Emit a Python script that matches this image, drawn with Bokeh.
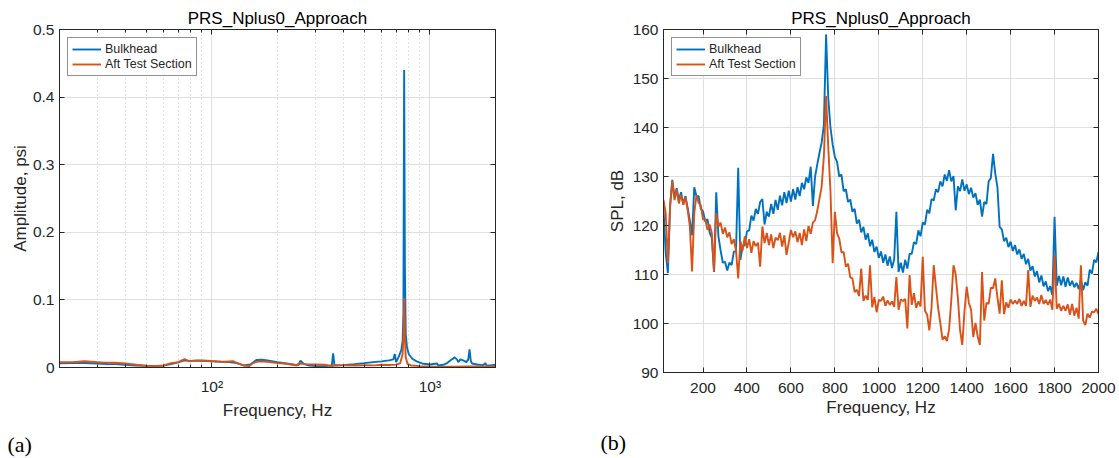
from bokeh.plotting import figure
from bokeh.models import (FixedTicker, Legend, LegendItem, LinearAxis, LogAxis, Title,
                          NumeralTickFormatter, CustomJSTickFormatter)
from bokeh.layouts import row
from bokeh.embed import file_html
from bokeh.resources import INLINE

# ---------------- data ----------------
title_text = "PRS_Nplus0_Approach"
series_names = ["Bulkhead", "Aft Test Section"]
panel_tags = ["(a)", "(b)"]

# panel (b): SPL in dB on a 10 Hz grid, 20 .. 2000 Hz
freq_hz = list(range(20, 2001, 10))
spl_bulkhead = [
    123.5, 114.5, 110.3, 124.0, 129.3, 125.8, 127.6, 125.2, 126.8,
    124.4, 126.0, 123.6, 121.0, 118.0, 127.8, 126.0, 126.0, 123.4, 122.9,
    120.8, 121.3, 118.6, 117.4, 110.5, 126.8, 117.8, 114.9, 112.4, 112.6,
    110.8, 112.4, 111.9, 114.6, 114.8, 131.8, 113.0, 115.8, 116.0, 118.8,
    119.0, 122.0, 121.0, 123.4, 122.4, 124.8, 125.4, 120.2, 122.8, 121.8,
    124.4, 122.4, 125.2, 123.2, 126.1, 124.1, 126.8, 124.6, 127.1, 124.9,
    127.4, 125.3, 127.8, 126.0, 128.7, 127.4, 129.8, 128.7, 132.0, 124.0,
    130.0, 132.5, 134.8, 137.0, 140.5, 159.0, 146.0, 140.0, 136.5, 134.0,
    133.0, 130.0, 130.4, 127.0, 127.4, 124.8, 125.3, 122.8, 123.4, 120.4,
    121.2, 118.6, 119.7, 117.1, 118.4, 115.8, 117.1, 114.6, 115.7, 113.4,
    114.7, 112.4, 114.1, 111.8, 113.7, 111.3, 113.1, 122.8, 110.5, 112.4,
    110.4, 113.0, 111.2, 114.2, 114.2, 116.6, 116.2, 119.0, 117.8, 120.6,
    120.2, 123.2, 122.5, 125.4, 125.1, 127.4, 126.8, 129.0, 128.0, 130.4,
    129.1, 131.3, 129.0, 130.1, 123.1, 128.0, 127.0, 129.4, 127.1, 128.4,
    126.4, 127.7, 125.7, 126.6, 124.2, 125.3, 121.8, 124.8, 124.4, 129.0,
    129.7, 134.6, 130.7, 127.8, 119.7, 119.2, 116.8, 117.5, 115.6, 116.7,
    114.8, 116.0, 114.1, 115.1, 113.2, 114.2, 112.1, 113.2, 110.8, 111.7,
    109.6, 110.7, 108.4, 109.8, 107.6, 108.6, 106.6, 107.6, 105.8, 121.8,
    107.7, 109.7, 107.8, 109.6, 107.5, 109.4, 107.7, 108.7, 107.4, 108.3,
    107.0, 109.0, 106.8, 108.4, 107.7, 111.0, 110.2, 113.0, 112.5, 114.6,
]
spl_aft = [
    125.2, 122.5, 112.3, 123.9, 129.0, 125.2, 127.3, 124.5, 126.3,
    124.2, 125.7, 123.2, 119.8, 110.6, 122.5, 126.2, 124.6, 124.1, 121.2,
    121.3, 119.1, 120.2, 118.4, 110.6, 122.5, 119.8, 120.6, 118.3, 119.6,
    117.6, 118.6, 116.2, 117.2, 114.9, 109.2, 116.8, 114.9, 117.8, 115.4,
    117.2, 114.4, 116.8, 115.8, 116.5, 111.6, 119.8, 116.4, 118.5, 116.0,
    118.2, 115.4, 117.5, 117.0, 118.5, 115.7, 118.0, 114.0, 116.5, 119.1,
    117.6, 118.8, 116.6, 118.5, 116.0, 119.2, 116.8, 119.9, 118.3, 120.6,
    121.1, 123.0, 125.5, 128.0, 134.1, 146.4, 136.0, 127.0, 112.3, 122.8,
    118.4, 117.3, 114.5, 114.6, 111.6, 112.2, 109.4, 109.2, 106.4, 106.9,
    105.6, 111.2, 104.6, 105.7, 104.8, 111.9, 103.3, 105.4, 102.3, 104.8,
    104.6, 105.5, 103.6, 104.7, 103.8, 104.5, 103.4, 109.5, 102.8, 104.9,
    104.6, 105.0, 99.0, 109.9, 103.8, 106.2, 103.2, 104.5, 103.5, 113.6,
    102.6, 101.8, 98.6, 103.3, 111.9, 107.5, 103.2, 100.1, 96.7, 97.4,
    96.4, 98.8, 104.8, 111.9, 110.0, 105.2, 98.6, 95.6, 102.5, 107.5,
    104.2, 102.8, 97.2, 100.1, 97.4, 95.6, 110.5, 100.6, 104.2, 104.0,
    107.3, 107.2, 109.2, 105.3, 102.0, 108.8, 101.9, 104.3, 103.2, 104.9,
    104.0, 104.7, 104.0, 105.0, 103.6, 104.6, 103.6, 110.9, 103.4, 105.7,
    104.6, 105.3, 104.0, 105.8, 104.0, 104.8, 103.8, 104.9, 102.8, 114.0,
    103.0, 104.0, 102.6, 103.6, 102.6, 103.9, 101.8, 104.0, 101.6, 103.2,
    101.0, 111.9, 100.6, 99.7, 102.0, 101.2, 102.4, 102.3, 103.0, 101.9,
]

# panel (a): amplitude in psi, log frequency axis
freq_bulk_psi = [20, 23, 26, 30, 33, 36, 40, 45, 50, 55, 60, 65, 70, 75, 80, 90, 100,
                 110, 120, 130, 140, 150, 160, 170, 180, 200, 220, 240, 250, 255, 265,
                 280, 300, 330, 355, 360, 365, 400, 450, 500, 550, 600, 650, 680, 690,
                 700, 720, 740, 750, 756, 762, 768, 775, 785, 800, 830, 870, 920, 1000,
                 1080, 1090, 1150, 1200, 1250, 1300, 1330, 1350, 1380, 1420, 1470, 1500,
                 1520, 1540, 1560, 1650, 1750, 1800, 1810, 1900, 2000]
amp_bulkhead = [0.0062, 0.0064, 0.0066, 0.0060, 0.0052, 0.0050, 0.0040, 0.0030, 0.0024,
                0.0022, 0.0028, 0.0050, 0.0075, 0.0105, 0.0098, 0.0100, 0.0092, 0.0085,
                0.0080, 0.0065, 0.0030, 0.0045, 0.0110, 0.0115, 0.0105, 0.0080, 0.0060,
                0.0040, 0.0035, 0.0100, 0.0050, 0.0030, 0.0022, 0.0020, 0.0030, 0.0210,
                0.0030, 0.0035, 0.0050, 0.0065, 0.0080, 0.0090, 0.0105, 0.0120, 0.0200,
                0.0080, 0.0160, 0.0260, 0.0400, 0.0800, 0.4400, 0.1500, 0.0500, 0.0300,
                0.0200, 0.0130, 0.0090, 0.0060, 0.0045, 0.0060, 0.0030, 0.0040, 0.0065,
                0.0110, 0.0150, 0.0120, 0.0080, 0.0120, 0.0105, 0.0080, 0.0120, 0.0270,
                0.0100, 0.0060, 0.0045, 0.0035, 0.0065, 0.0035, 0.0030, 0.0040]
freq_aft_psi = [20, 23, 26, 28, 32, 36, 40, 45, 50, 55, 60, 65, 70, 75, 78, 85, 95, 105,
                115, 125, 130, 140, 148, 155, 165, 180, 200, 220, 245, 250, 270, 300, 330,
                358, 365, 400, 460, 500, 560, 600, 650, 700, 730, 750, 758, 763, 768, 775,
                790, 820, 900, 1000, 1200, 1300, 1500, 1700, 1800, 2000]
amp_aft = [0.0078, 0.0080, 0.0092, 0.0085, 0.0072, 0.0070, 0.0060, 0.0040, 0.0025, 0.0020,
           0.0030, 0.0065, 0.0080, 0.0125, 0.0095, 0.0105, 0.0100, 0.0090, 0.0085, 0.0095,
           0.0070, 0.0030, 0.0020, 0.0070, 0.0090, 0.0085, 0.0065, 0.0055, 0.0030, 0.0060,
           0.0050, 0.0045, 0.0040, 0.0020, 0.0035, 0.0032, 0.0030, 0.0034, 0.0032, 0.0040,
           0.0037, 0.0042, 0.0060, 0.0200, 0.0500, 0.1030, 0.0450, 0.0150, 0.0050, 0.0030,
           0.0020, 0.0015, 0.0012, 0.0010, 0.0015, 0.0014, 0.0016, 0.0014]

amp_ticks = [0, 0.1, 0.2, 0.3, 0.4, 0.5]
log_major_ticks = [100, 1000]
log_minor_ticks = [20, 30, 40, 50, 60, 70, 80, 90, 200, 300, 400, 500, 600, 700, 800, 900, 2000]
freq_ticks = [200, 400, 600, 800, 1000, 1200, 1400, 1600, 1800, 2000]
spl_ticks = [90, 100, 110, 120, 130, 140, 150, 160]

# ---------------- style ----------------
BLUE = "#0072BD"
ORANGE = "#D95319"
AX = "#262626"
GRID = "#dfdfdf"
MINOR = "#c8c8c8"
FONT = "Liberation Sans"
SERIF = "Liberation Serif"
LW = 1.9


def style_axis(ax, ticks, minor=(), labels=True):
    ax.ticker = FixedTicker(ticks=list(ticks), minor_ticks=list(minor))
    ax.axis_line_color = AX
    ax.major_tick_line_color = AX
    ax.minor_tick_line_color = AX
    ax.major_tick_in = 5
    ax.major_tick_out = 0
    ax.minor_tick_in = 3
    ax.minor_tick_out = 0
    ax.major_label_text_font = FONT
    ax.major_label_text_font_size = "15.5px"
    ax.major_label_text_color = AX
    ax.major_label_standoff = 5
    ax.axis_label_text_font = FONT
    ax.axis_label_text_font_size = "17px"
    ax.axis_label_text_font_style = "normal"
    ax.axis_label_text_color = AX
    if not labels:
        ax.formatter = CustomJSTickFormatter(code="return ''")
        ax.major_label_standoff = 0


def base_fig(fw, fh, left, right, bottom, **kw):
    p = figure(frame_width=fw, frame_height=fh, output_backend="svg", toolbar_location=None,
               min_border_left=left, min_border_right=right, min_border_top=29,
               min_border_bottom=bottom, **kw)
    p.outline_line_color = AX
    p.outline_line_width = 1
    p.background_fill_color = "white"
    p.border_fill_color = "white"
    return p


def add_legend(p, r1, r2):
    leg = Legend(items=[LegendItem(label=series_names[0], renderers=[r1]),
                        LegendItem(label=series_names[1], renderers=[r2])],
                 location="top_left")
    leg.border_line_color = AX
    leg.border_line_width = 1
    leg.background_fill_alpha = 1
    leg.label_text_font = FONT
    leg.label_text_font_size = "12.5px"
    leg.label_text_color = AX
    leg.glyph_width = 29
    leg.glyph_height = 14
    leg.label_height = 14
    leg.label_standoff = 4
    leg.spacing = 1
    leg.padding = 4
    leg.margin = 8
    p.add_layout(leg)


def add_titles(p, tag, tag_offset, tag_standoff):
    p.title = Title(text=title_text, align="center", text_font=FONT, text_font_size="17px",
                    text_font_style="normal", text_color="black", standoff=4)
    p.add_layout(Title(text=tag, align="left", offset=tag_offset, text_font=SERIF,
                       text_font_size="22px", text_font_style="normal", text_color="black",
                       standoff=tag_standoff), "below")


# ---------------- panel (a) ----------------
p1 = base_fig(436, 338, 59, 65, 91, x_axis_type="log", x_range=(20, 2000), y_range=(0, 0.5))
ra1 = p1.line(freq_bulk_psi, amp_bulkhead, line_color=BLUE, line_width=LW)
ra2 = p1.line(freq_aft_psi, amp_aft, line_color=ORANGE, line_width=LW)
style_axis(p1.xaxis[0], log_major_ticks, log_minor_ticks)
p1.xaxis[0].major_label_overrides = {100: "10\u00b2", 1000: "10\u00b3"}
p1.xaxis[0].major_label_standoff = 10
p1.xaxis[0].axis_label = "Frequency, Hz"
p1.xaxis[0].axis_label_standoff = 3
style_axis(p1.yaxis[0], amp_ticks)
p1.yaxis[0].formatter = NumeralTickFormatter(format="0.[0]")
p1.yaxis[0].axis_label = "Amplitude, psi"
p1.yaxis[0].axis_label_standoff = 0
top1 = LogAxis()
style_axis(top1, log_major_ticks, log_minor_ticks, labels=False)
p1.add_layout(top1, "above")
right1 = LinearAxis()
style_axis(right1, amp_ticks, labels=False)
p1.add_layout(right1, "right")
p1.xgrid.grid_line_color = GRID
p1.xgrid.minor_grid_line_color = MINOR
p1.xgrid.minor_grid_line_dash = "1 3"
p1.ygrid.grid_line_color = GRID
add_legend(p1, ra1, ra2)
add_titles(p1, panel_tags[0], -52, 14)

# ---------------- panel (b) ----------------
p2 = base_fig(435, 343, 103, 21, 86, x_range=(20, 2000), y_range=(90, 160))
rb1 = p2.line(freq_hz, spl_bulkhead, line_color=BLUE, line_width=LW)
rb2 = p2.line(freq_hz, spl_aft, line_color=ORANGE, line_width=LW)
style_axis(p2.xaxis[0], freq_ticks)
p2.xaxis[0].major_label_standoff = 10
p2.xaxis[0].axis_label = "Frequency, Hz"
p2.xaxis[0].axis_label_standoff = 2
style_axis(p2.yaxis[0], spl_ticks)
p2.yaxis[0].axis_label = "SPL, dB"
p2.yaxis[0].axis_label_standoff = 3
top2 = LinearAxis()
style_axis(top2, freq_ticks, labels=False)
p2.add_layout(top2, "above")
right2 = LinearAxis()
style_axis(right2, spl_ticks, labels=False)
p2.add_layout(right2, "right")
p2.xgrid.grid_line_color = GRID
p2.ygrid.grid_line_color = GRID
add_legend(p2, rb1, rb2)
add_titles(p2, panel_tags[1], -63, 16)

layout = row(p1, p2)
open("out.html", "w").write(file_html(layout, INLINE))
